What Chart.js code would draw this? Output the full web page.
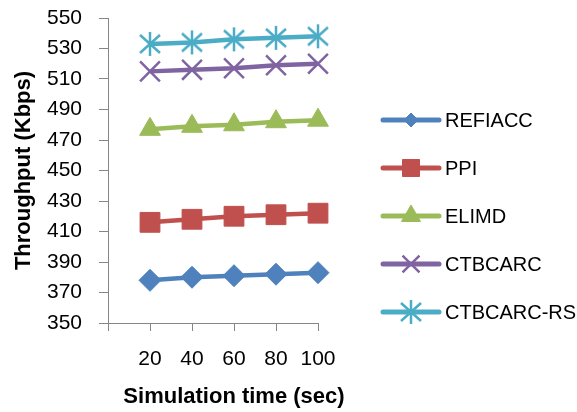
<!DOCTYPE html>
<html>
<head>
<meta charset="utf-8">
<script src="https://cdn.jsdelivr.net/npm/chart.js@4/dist/chart.umd.min.js"></script>
<style>
  html, body { margin: 0; padding: 0; background: #ffffff; }
  #wrap { width: 577px; height: 412px; }
</style>
</head>
<body>
<div id="wrap"><canvas id="chart" width="577" height="412"></canvas></div>
<script>
// Simulation time (x) and throughput per scheme (Kbps)
const simTime = [20, 40, 60, 80, 100];
const seriesNames = ['REFIACC', 'PPI', 'ELIMD', 'CTBCARC', 'CTBCARC-RS'];
const refiacc   = [378, 380, 381, 382, 383];
const ppi       = [416, 418, 420, 421, 422];
const elimd     = [477, 479, 480, 482, 483];
const ctbcarc   = [515, 516, 517, 519, 520];
const ctbcarcRs = [533, 534, 536, 537, 538];
const yRange = { min: 350, max: 550, step: 20 };
const xRange = { min: 0, max: 100, step: 20 };

const axisGrey = '#868686';
const TICK_FONT = { family: '"Liberation Sans", Arial, sans-serif', size: 21 };
const TITLE_FONT = { family: '"Liberation Sans", Arial, sans-serif', size: 22, weight: 'bold' };
const LEGEND_FONT = '20px "Liberation Sans", Arial, sans-serif';

// Asterisk marker: vertical bar plus an X
function asteriskMarker(color) {
  const c = document.createElement('canvas');
  c.width = 24; c.height = 28;
  const g = c.getContext('2d');
  g.strokeStyle = color;
  g.lineWidth = 2.5;
  g.beginPath();
  g.moveTo(12, 2);  g.lineTo(12, 26);
  g.moveTo(2, 5);   g.lineTo(22, 23);
  g.moveTo(22, 5);  g.lineTo(2, 23);
  g.stroke();
  return c;
}

const styles = [
  { color: '#4F81BD', pointStyle: 'rectRot',  radius: 11, legendRadius: 7,  bw: 1 },
  { color: '#C0504D', pointStyle: 'rect',     radius: 14, legendRadius: 12, bw: 1 },
  { color: '#9BBB59', pointStyle: 'triangle', radius: 12, legendRadius: 11, bw: 1 },
  { color: '#8064A2', pointStyle: 'crossRot', radius: 14, legendRadius: 12, bw: 2.5 },
  { color: '#4BACC6', pointStyle: asteriskMarker('#4BACC6'), radius: 12, legendRadius: 12, bw: 2.5 }
];

const seriesValues = [refiacc, ppi, elimd, ctbcarc, ctbcarcRs];

const datasets = seriesNames.map((name, i) => ({
  label: name,
  data: simTime.map((t, k) => ({ x: t, y: seriesValues[i][k] })),
  borderColor: styles[i].color,
  backgroundColor: styles[i].color,
  borderWidth: 4.5,
  pointStyle: styles[i].pointStyle,
  pointRadius: styles[i].radius,
  pointBorderWidth: styles[i].bw,
  pointBackgroundColor: styles[i].color,
  pointBorderColor: styles[i].color,
  tension: 0,
  clip: false
}));

// Legend on the right: a line segment with the series marker, then the name
const sideLegend = {
  id: 'sideLegend',
  afterDraw(chart) {
    const ctx = chart.ctx;
    const lineX0 = 383, lineX1 = 439, textX = 445, firstY = 120, gap = 48;
    ctx.save();
    chart.data.datasets.forEach((ds, i) => {
      const y = firstY + i * gap;
      ctx.strokeStyle = ds.borderColor;
      ctx.lineWidth = 5;
      ctx.lineCap = 'round';
      ctx.beginPath();
      ctx.moveTo(lineX0, y);
      ctx.lineTo(lineX1, y);
      ctx.stroke();
      ctx.lineCap = 'butt';
      ctx.fillStyle = ds.pointBackgroundColor;
      ctx.strokeStyle = ds.pointBorderColor;
      ctx.lineWidth = ds.pointBorderWidth;
      Chart.helpers.drawPoint(ctx, {
        pointStyle: ds.pointStyle,
        radius: styles[i].legendRadius,
        borderWidth: ds.pointBorderWidth,
        rotation: 0
      }, (lineX0 + lineX1) / 2, y);
      ctx.fillStyle = '#000000';
      ctx.font = LEGEND_FONT;
      ctx.textAlign = 'left';
      ctx.textBaseline = 'middle';
      ctx.fillText(ds.label, textX, y + 1);
    });
    ctx.restore();
  }
};

// X axis title centred over the span of the plotted times
const xAxisTitle = {
  id: 'xAxisTitle',
  afterDraw(chart) {
    const xs = chart.scales.x;
    const cx = (xs.getPixelForValue(simTime[0]) + xs.getPixelForValue(simTime[simTime.length - 1])) / 2;
    const ctx = chart.ctx;
    ctx.save();
    ctx.font = 'bold 22px "Liberation Sans", Arial, sans-serif';
    ctx.fillStyle = '#000000';
    ctx.textAlign = 'center';
    ctx.textBaseline = 'middle';
    ctx.fillText('Simulation time (sec)', cx, 397);
    ctx.restore();
  }
};

new Chart(document.getElementById('chart'), {
  type: 'line',
  data: { datasets },
  options: {
    responsive: false,
    devicePixelRatio: 1,
    animation: false,
    layout: { padding: { top: 18, right: 259, bottom: 0, left: 0 } },
    plugins: { legend: { display: false }, tooltip: { enabled: false } },
    scales: {
      x: {
        type: 'linear',
        min: xRange.min, max: xRange.max,
        afterFit(scale) { scale.height = 89; },
        ticks: {
          stepSize: xRange.step,
          color: '#000000',
          font: TICK_FONT,
          padding: 16,
          maxRotation: 0,
          callback: v => (v === 0 ? '' : String(v))
        },
        grid: { drawOnChartArea: false, drawTicks: true, tickLength: 8, color: axisGrey, lineWidth: 1 },
        border: { display: true, color: axisGrey, width: 1 }
      },
      y: {
        min: yRange.min, max: yRange.max,
        afterFit(scale) {
          scale.width = 108;
          scale.paddingTop = 0;
          scale.paddingBottom = 0;
        },
        ticks: { stepSize: yRange.step, color: '#000000', font: TICK_FONT, padding: 17 },
        grid: { drawOnChartArea: false, drawTicks: true, tickLength: 9, color: axisGrey, lineWidth: 1 },
        border: { display: true, color: axisGrey, width: 1 },
        title: {
          display: true,
          text: 'Throughput (Kbps)',
          color: '#000000',
          font: TITLE_FONT,
          padding: { top: 11, bottom: 0 }
        }
      }
    }
  },
  plugins: [sideLegend, xAxisTitle]
});
</script>
</body>
</html>
